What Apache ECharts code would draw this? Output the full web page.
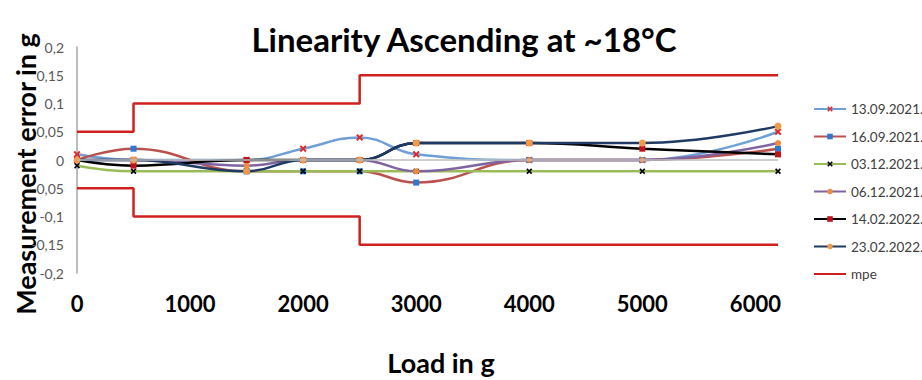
<!DOCTYPE html>
<html>
<head>
<meta charset="utf-8">
<script src="https://cdn.jsdelivr.net/npm/echarts@6/dist/echarts.min.js"></script>
<style>
html,body{margin:0;padding:0;background:#fff;}
#c{width:922px;height:380px;}
</style>
</head>
<body>
<div id="c"></div>
<script>
// ---- data ----
const loads = [0, 500, 1500, 2000, 2500, 3000, 4000, 5000, 6200];
const seriesNames = ['13.09.2021.', '16.09.2021.', '03.12.2021.', '06.12.2021.', '14.02.2022.', '23.02.2022.'];
const s130921 = [0.01, 0, 0, 0.02, 0.04, 0.01, 0, 0, 0.05];
const s160921 = [0, 0.02, -0.02, -0.02, -0.02, -0.04, 0, 0, 0.02];
const s031221 = [-0.01, -0.02, -0.02, -0.02, -0.02, -0.02, -0.02, -0.02, -0.02];
const s061221 = [0, 0, -0.01, 0, 0, -0.02, 0, 0, 0.03];
const s140222 = [0, -0.01, 0, 0, 0, 0.03, 0.03, 0.02, 0.01];
const s230222 = [0, 0, -0.02, 0, 0, 0.03, 0.03, 0.03, 0.06];
const mpeLoads = [0, 500, 2500, 6200];
const mpeUpper = [0.05, 0.1, 0.15, 0.15];
const mpeLower = [-0.05, -0.1, -0.15, -0.15];
const xTicks = [0, 1000, 2000, 3000, 4000, 5000, 6000];

const titleText = 'Linearity Ascending at ~18°C';
const yTitle = 'Measurement error in g';
const xTitle = 'Load in g';

// ---- styles ----
const X_PATH = 'path://M2,0L5,3L8,0L10,2L7,5L10,8L8,10L5,7L2,10L0,8L3,5L0,2Z';
const styles = [
  {line: '#6E9FD6', mk: '#E0282A', sym: X_PATH, size: 7},
  {line: '#B9514E', mk: '#2E78D2', sym: 'rect', size: 6},
  {line: '#9BBB59', mk: '#000000', sym: X_PATH, size: 6},
  {line: '#8064A2', mk: '#F08A3C', sym: 'circle', size: 6},
  {line: '#000000', mk: '#C0141A', sym: 'rect', size: 6},
  {line: '#1F3B63', mk: '#F09A4C', sym: 'circle', size: 7}
];
const allData = [s130921, s160921, s031221, s061221, s140222, s230222];

const pairs = (xs, ys) => xs.map((x, i) => [x, ys[i]]);

const series = allData.map((d, i) => {
  const s = {
    name: seriesNames[i],
    type: 'line',
    smooth: 0.45,
    data: pairs(loads, d),
    symbol: styles[i].sym,
    symbolSize: styles[i].size,
    showAllSymbol: true,
    lineStyle: {color: styles[i].line, width: 2.5},
    itemStyle: {color: styles[i].mk, borderWidth: 0},
    color: styles[i].line,
    emphasis: {disabled: true},
    animation: false
  };
  if (i === 0) {
    s.markLine = {
      silent: true,
      symbol: ['none', 'none'],
      label: {show: false},
      lineStyle: {color: '#BDBDBD', width: 1.5, type: 'solid'},
      data: [{yAxis: 0}],
      animation: false
    };
  }
  return s;
});
[mpeUpper, mpeLower].forEach(arr => {
  series.push({
    name: 'mpe',
    type: 'line',
    step: 'end',
    data: pairs(mpeLoads, arr),
    symbol: 'none',
    showSymbol: false,
    lineStyle: {color: '#D0201E', width: 2.5},
    itemStyle: {color: '#D0201E', opacity: 0},
    color: '#D0201E',
    emphasis: {disabled: true},
    animation: false
  });
});

const chart = echarts.init(document.getElementById('c'), null, {renderer: 'svg'});
chart.setOption({
  backgroundColor: '#ffffff',
  animation: false,
  grid: {left: 77, right: 144, top: 47, bottom: 107, containLabel: false},
  xAxis: {
    type: 'value', min: 0, max: 6200, interval: 1000,
    axisLine: {show: false, onZero: false},
    axisTick: {show: false},
    splitLine: {show: false},
    axisLabel: {
      margin: 19, color: '#000', fontSize: 22, fontWeight: 'bold', fontFamily: 'Lato',
      showMaxLabel: false,
      formatter: v => xTicks.indexOf(v) >= 0 ? String(v) : ''
    }
  },
  yAxis: {
    type: 'value', min: -0.2, max: 0.2, interval: 0.05,
    axisLine: {show: true, lineStyle: {color: '#A6A6A6', width: 1.5}},
    axisTick: {show: false},
    splitLine: {show: false},
    axisLabel: {
      margin: 13, color: '#595959', fontSize: 14, fontFamily: 'Lato',
      formatter: v => String(Math.round(v * 100) / 100).replace('.', ',')
    }
  },
  legend: {
    orient: 'vertical', left: 808, top: 97,
    itemWidth: 32, itemHeight: 7, itemGap: 13.5,
    textStyle: {fontSize: 13.5, color: '#404040', fontFamily: 'Lato', lineHeight: 14},
    data: seriesNames.concat(['mpe']),
    selectedMode: false
  },
  graphic: [
    {type: 'text', x: 464, y: 39, style: {text: titleText, fill: '#000', font: 'bold 33px Lato', textAlign: 'center', textVerticalAlign: 'middle'}},
    {type: 'text', x: 25, y: 174, rotation: Math.PI / 2, style: {text: yTitle, fill: '#000', font: 'bold 27px Lato', textAlign: 'center', textVerticalAlign: 'middle'}},
    {type: 'text', x: 441, y: 362, style: {text: xTitle, fill: '#000', font: 'bold 27px Lato', textAlign: 'center', textVerticalAlign: 'middle'}}
  ],
  series: series
});
</script>
</body>
</html>
